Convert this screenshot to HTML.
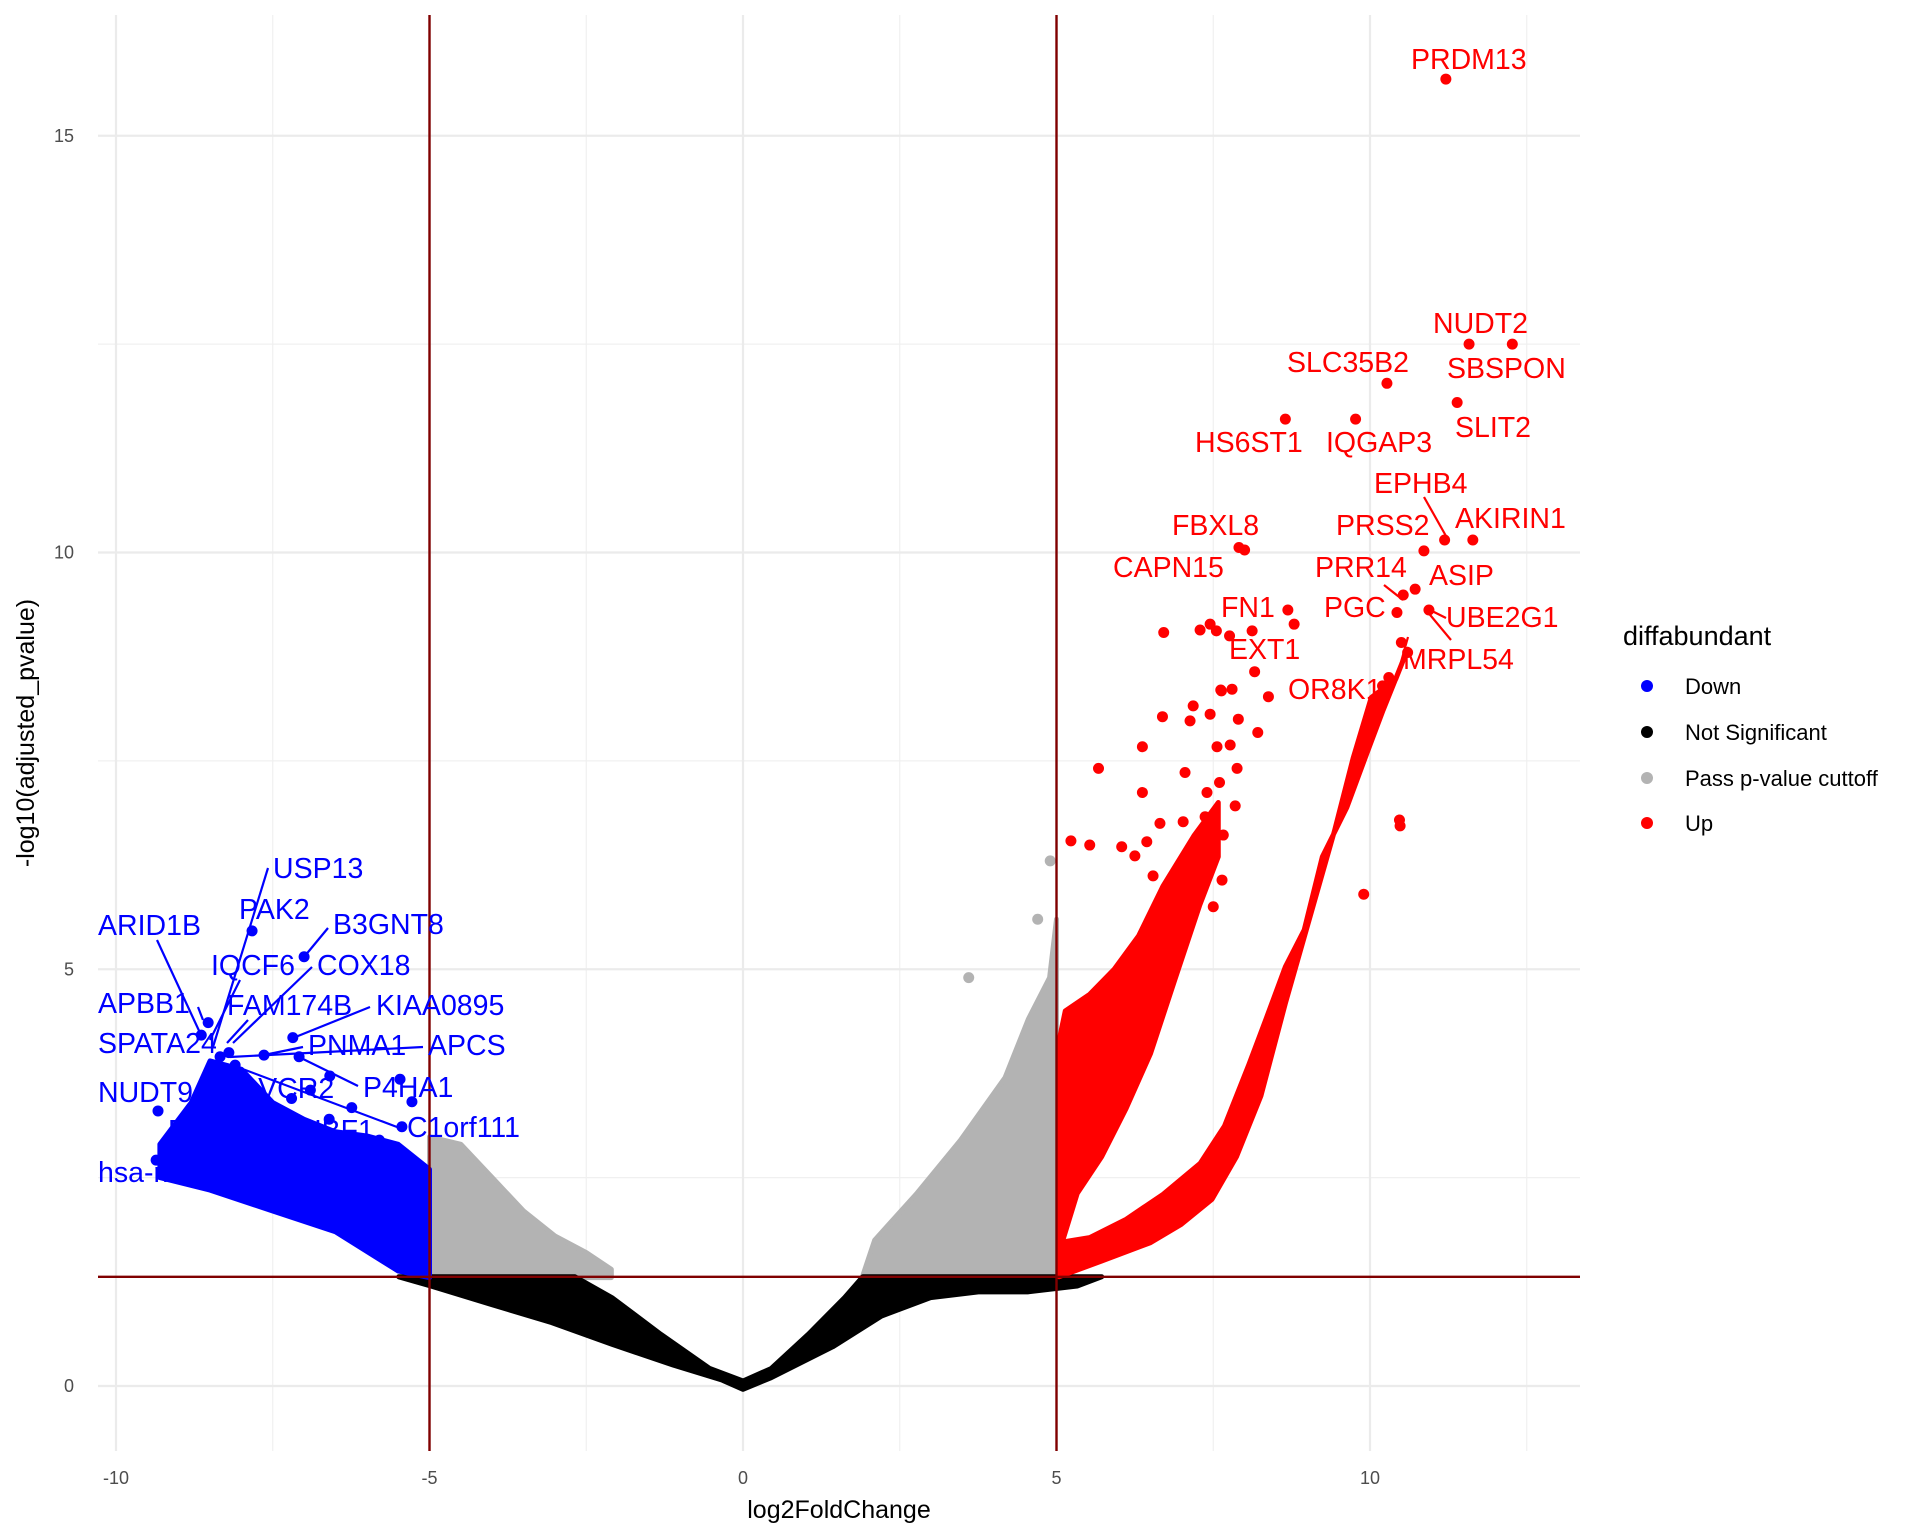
<!DOCTYPE html>
<html><head><meta charset="utf-8"><style>
html,body{margin:0;padding:0;background:#fff}
svg{display:block;font-family:"Liberation Sans",Arial,sans-serif}
</style></head><body>
<svg id="chart" width="1920" height="1536" viewBox="0 0 1920 1536" xmlns="http://www.w3.org/2000/svg">
<g id="grid"></g>
<g id="clouds"></g>
<g id="points"></g>
<g id="refs"></g>
<g id="labels"></g>
<g id="axes"></g>
<text x="839" y="1518" font-size="25" text-anchor="middle" fill="#000">log2FoldChange</text>
<text transform="translate(34,733) rotate(-90)" font-size="25" text-anchor="middle" fill="#000">-log10(adjusted_pvalue)</text>
<g>
<text x="1623" y="645" font-size="27" fill="#000">diffabundant</text>
<circle cx="1647" cy="686" r="6" fill="#0000ff"/>
<text x="1685" y="694" font-size="22">Down</text>
<circle cx="1647" cy="732" r="6" fill="#000"/>
<text x="1685" y="740" font-size="22">Not Significant</text>
<circle cx="1647" cy="778" r="6" fill="#b3b3b3"/>
<text x="1685" y="786" font-size="22">Pass p-value cuttoff</text>
<circle cx="1647" cy="823" r="6" fill="#ff0000"/>
<text x="1685" y="831" font-size="22">Up</text>
</g>
</svg>
<script>
// ---- data ----
const xTicks=[-10,-5,0,5,10];
const xMinor=[-7.5,-2.5,2.5,7.5,12.5];
const yTicks=[0,5,10,15];
const yMinor=[2.5,7.5,12.5];
const fcCut=5, pCut=1.31;
const nsBand=[[-5.49,1.31],[-4.98,1.2],[-4.02,0.98],[-3.05,0.76],[-2.09,0.5],[-1.11,0.25],[-0.33,0.07],[0,-0.04],[0.45,0.1],[1.43,0.47],[2.21,0.84],[2.99,1.06],[3.77,1.13],[4.55,1.13],[5.33,1.2],[5.72,1.31],
[1.91,1.31],[1.62,1.06],[1.04,0.62],[0.45,0.21],[0,0.06],[-0.53,0.21],[-1.31,0.62],[-2.09,1.06],[-2.68,1.31]];
const passLeft=[[-5,1.3],[-5,2.99],[-4.5,2.9],[-4.0,2.5],[-3.5,2.1],[-3,1.8],[-2.5,1.6],[-2.1,1.4],[-2.1,1.3]];
const passRight=[[1.9,1.3],[2.1,1.75],[2.76,2.3],[3.47,2.95],[4.18,3.7],[4.55,4.4],[4.89,4.9],[5,5.6],[5,1.3]];
const downCloud=[[-5,1.3],[-5.5,1.38],[-6.5,1.85],[-7.5,2.1],[-8.5,2.35],[-9.3,2.5],[-9.3,2.9],[-8.8,3.4],[-8.5,3.9],[-8,3.8],[-7.5,3.4],[-7,3.2],[-6.5,3.05],[-6,3.0],[-5.5,2.9],[-5,2.6]];
const upArmLow=[[5.04,1.31],[5.72,1.5],[6.5,1.72],[6.99,1.94],[7.48,2.24],[7.87,2.75],[8.26,3.48],[8.65,4.59],[9.04,5.62],[9.43,6.65],[9.73,7.53],[10.02,8.26],[10.41,8.48],
[10.6,8.84],[10.21,8.11],[9.92,7.53],[9.63,6.94],[9.24,6.35],[8.95,5.47],[8.65,5.03],[8.36,4.44],[8.07,3.86],[7.68,3.12],[7.29,2.67],[6.7,2.3],[6.11,2.0],[5.53,1.78],[5.04,1.72]];
const upArmHigh=[[5.04,1.6],[5.33,2.31],[5.72,2.75],[6.11,3.33],[6.5,3.99],[6.89,4.88],[7.28,5.76],[7.58,6.35],[7.58,7.0],[7.19,6.6],[6.7,6.0],[6.31,5.4],[5.92,5.0],[5.53,4.7],[5.14,4.5],[5.04,4.14]];
const passX=[3.6,4.9,4.7];
const passY=[4.9,6.3,5.6];
const upX=[11.21,11.58,12.27,10.27,11.39,8.65,9.77,11.19,11.64,10.86,7.91,8.0,10.53,10.72,10.43,10.94,10.5,10.47,
5.23,5.53,5.67,6.37,6.37,7.05,7.18,6.69,7.45,7.63,7.9,8.21,8.38,8.16,7.56,7.77,7.88,7.4,7.6,7.85,7.37,7.66,6.65,7.02,6.44,6.04,6.25,7.5,7.64,7.5,7.21,6.54,
9.9,10.48,6.71,7.29,7.45,7.55,7.76,8.12,8.69,8.79,7.62,7.8,7.13,10.3,10.6,10.2];
const upY=[15.68,12.5,12.5,12.03,11.8,11.6,11.6,10.15,10.15,10.02,10.06,10.03,9.49,9.56,9.28,9.31,8.92,6.79,
6.54,6.49,7.41,7.67,7.12,7.36,8.16,8.03,8.06,8.34,8.0,7.84,8.27,8.57,7.67,7.69,7.41,7.12,7.24,6.96,6.83,6.61,6.75,6.77,6.53,6.47,6.36,6.33,6.07,5.75,5.83,6.12,
5.9,6.72,9.04,9.07,9.14,9.06,9.0,9.06,9.31,9.14,8.35,8.36,7.98,8.5,8.8,8.4];
const downX=[-7.83,-7.0,-8.53,-8.64,-7.18,-7.64,-7.08,-6.59,-5.47,-5.28,-6.24,-5.44,-9.33,-9.36,-8.34,-8.2,-8.1,-6.9,-7.2,-6.6,-5.8];
const downY=[5.46,5.15,4.36,4.21,4.18,3.97,3.95,3.72,3.68,3.41,3.34,3.11,3.3,2.71,3.95,4.0,3.85,3.55,3.45,3.2,2.95];
const labelText=["PRDM13","NUDT2","SLC35B2","SBSPON","HS6ST1","IQGAP3","SLIT2","EPHB4","AKIRIN1","PRSS2","FBXL8","CAPN15","PRR14","ASIP","FN1","PGC","UBE2G1","EXT1","MRPL54","OR8K1",
"USP13","PAK2","ARID1B","B3GNT8","IQCF6","COX18","APBB1","FAM174B","KIAA0895","SPATA24","PNMA1","APCS","P4HA1","NUDT9","FLVCR2","C1orf111","FA","EHBF1","hsa-mir"];
const labelPx=[1411,1433,1287,1447,1195,1326,1455,1374,1455,1336,1172,1113,1315,1429,1221,1324,1446,1229,1403,1288,
273,239,98,333,211,317,98,227,376,98,308,428,363,98,227,407,168,282,98];
const labelPy=[69,333,372,378,452,452,437,493,528,535,535,577,577,585,617,617,627,659,669,699,
878,919,935,934,975,975,1013,1015,1015,1053,1055,1055,1097,1102,1098,1137,1140,1140,1182];
const leaders=[[1424,497,1446,536],[1384,585,1403,600],[1426,608,1446,618],[1451,640,1426,610],[1396,680,1408,637],
[268,868,213,1047],[157,940,201,1035],[328,928,304,957],[240,980,210,1040],[312,967,233,1043],[198,1007,203,1020],[248,1020,227,1043],[370,1007,293,1038],[303,1047,264,1055],[423,1047,230,1057],[358,1086,299,1057],[397,1127,240,1068]];

// ---- scales ----
const sx=v=>743+v*62.7, sy=v=>1386-v*83.35;
const L=98,R=1580,T=15,B=1451;
const NS="http://www.w3.org/2000/svg";
function mk(tag,parent,attrs){const e=document.createElementNS(NS,tag);for(const k in attrs)e.setAttribute(k,attrs[k]);parent.appendChild(e);return e;}
const grid=document.getElementById('grid');
xMinor.forEach(v=>{const e=mk('line',grid,{x1:sx(v),x2:sx(v),y1:T,y2:B,stroke:'#f0f0f0','stroke-width':1.2});

});
yMinor.forEach(v=>{const e=mk('line',grid,{x1:L,x2:R,y1:sy(v),y2:sy(v),stroke:'#f0f0f0','stroke-width':1.2});

});
xTicks.forEach(v=>{const e=mk('line',grid,{x1:sx(v),x2:sx(v),y1:T,y2:B,stroke:'#ebebeb','stroke-width':2.2});

});
yTicks.forEach(v=>{const e=mk('line',grid,{x1:L,x2:R,y1:sy(v),y2:sy(v),stroke:'#ebebeb','stroke-width':2.2});

});
const clouds=document.getElementById('clouds');
function poly(arr,color,name){const e=mk('polygon',clouds,{points:arr.map(p=>sx(p[0])+','+sy(p[1])).join(' '),fill:color,stroke:color,'stroke-width':5,'stroke-linejoin':'round'});

}
poly(passLeft,'#b3b3b3','pass-cloud-left');
poly(passRight,'#b3b3b3','pass-cloud-right');
poly(nsBand,'#000000','not-significant-cloud');
poly(downCloud,'#0000ff','down-cloud');
poly(upArmLow,'#ff0000','up-cloud-lower');
poly(upArmHigh,'#ff0000','up-cloud-upper');
const pts=document.getElementById('points');
function dots(xs,ys,color,name){xs.forEach((x,i)=>{const e=mk('circle',pts,{cx:sx(x),cy:sy(ys[i]),r:5.5,fill:color});

});}
dots(passX,passY,'#b3b3b3','pass-point');
dots(upX,upY,'#ff0000','up-point');
dots(downX,downY,'#0000ff','down-point');
const refs=document.getElementById('refs');
[-fcCut,fcCut].forEach(v=>{const e=mk('line',refs,{x1:sx(v),x2:sx(v),y1:T,y2:B,stroke:'#800000','stroke-width':2.4});

});
{const e=mk('line',refs,{x1:L,x2:R,y1:sy(pCut),y2:sy(pCut),stroke:'#800000','stroke-width':2.4});

}
const lab=document.getElementById('labels');
leaders.forEach((l,i)=>{const e=mk('line',lab,{x1:l[0],y1:l[1],x2:l[2],y2:l[3],stroke:i<5?'#ff0000':'#0000ff','stroke-width':2.2});

});
labelText.forEach((t,i)=>{const e=mk('text',lab,{x:labelPx[i],y:labelPy[i],'font-size':28.5,fill:i<20?'#ff0000':'#0000ff'});
e.textContent=t;

});
const ax=document.getElementById('axes');
xTicks.forEach(v=>{const e=mk('text',ax,{x:sx(v),y:1484,'font-size':18,fill:'#4d4d4d','text-anchor':'middle'});
e.textContent=v;

});
yTicks.forEach(v=>{const e=mk('text',ax,{x:74,y:sy(v)+6,'font-size':18,fill:'#4d4d4d','text-anchor':'end'});
e.textContent=v;

});
</script>
</body></html>
